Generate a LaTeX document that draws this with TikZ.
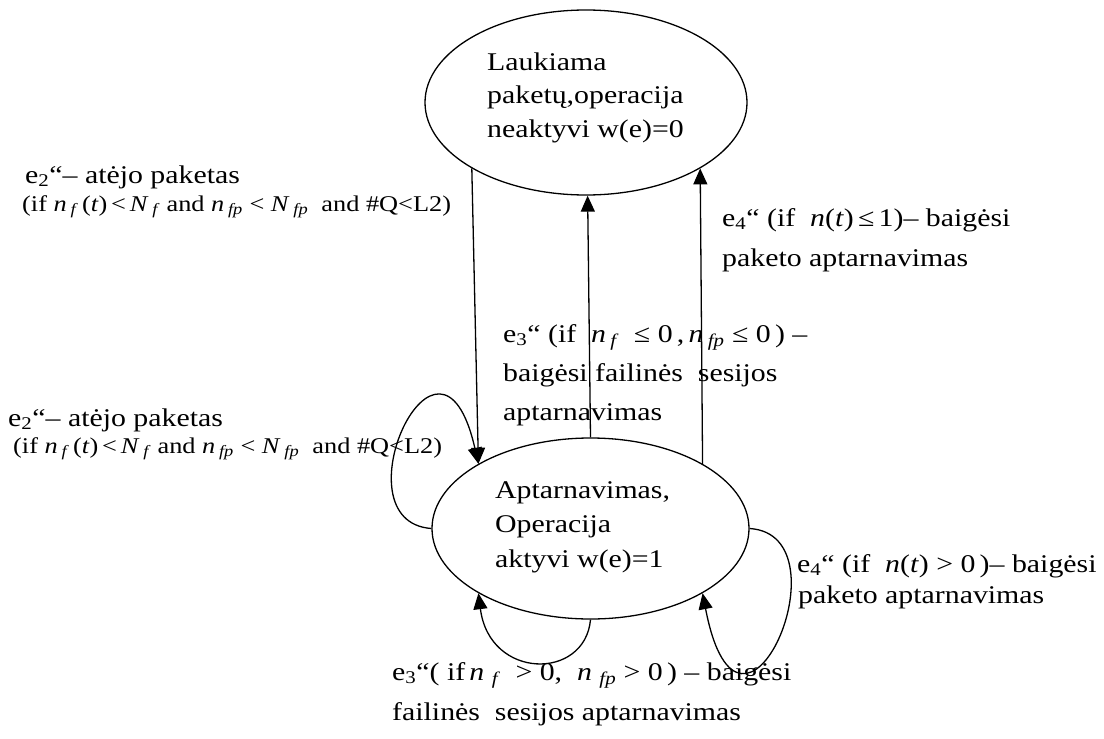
\documentclass[tikz,border=0pt]{standalone}
\usepackage{fontspec}
\setmainfont{Liberation Serif}[FakeStretch=1.17]
\usetikzlibrary{arrows.meta,shapes.geometric}
\newcommand{\vi}[1]{\textit{#1}}
\newcommand{\sbi}[1]{\textsubscript{\textit{#1}}}
\begin{document}
\begin{tikzpicture}[x=1pt,y=-1pt,
  lbl/.style={anchor=base west, inner sep=0pt, font=\fontsize{25.5}{30}\selectfont},
  sml/.style={anchor=base west, inner sep=0pt, font=\fontsize{22.5}{26}\selectfont},
  state/.style={draw, ellipse, line width=1.3pt, inner sep=0pt},
  arr/.style={line width=1.3pt, -{Triangle[length=16pt,width=14pt]}}]
\useasboundingbox (0,0) rectangle (1104,739);

% states
\node[state, minimum width=322pt, minimum height=185pt] (top) at (586,102.5) {};
\node[state, minimum width=317pt, minimum height=181pt] (bot) at (590.5,528.5) {};

% state texts
\node[lbl] (t1) at (487,70.5) {Laukiama};
\node[lbl] (t2) at (487,103) {paketų,operacija};
\node[lbl] (t3) at (487,137) {neaktyvi w(e)=0};
\node[lbl] (b1) at (495,498) {Aptarnavimas,};
\node[lbl] (b2) at (495,532) {Operacija};
\node[lbl] (b3) at (495,567) {aktyvi w(e)=1};

% connectors
\draw[arr] (top.210.25) -- (bot.150);
\draw[arr] (bot.90) -- (top.271);
\draw[arr] (bot.30) -- (top.330.2);
\draw[arr] (bot.180) .. controls +(-97,-7) and +(-39,-172) .. (bot.150);
\draw[arr] (bot.270) .. controls +(-5.5,61) and +(11,87) .. (bot.210);
\draw[arr] (bot.0) .. controls +(101,6.5) and +(38,197) .. (bot.330);

% label A
\node[lbl] (a1) at (25,183) {e\textsubscript{2}“– atėjo paketas};
\node[sml] (a2) at (22,211) {(if \vi{n}\,\sbi{f}\,(\vi{t})\,<\,\vi{N}\,\sbi{f} and \vi{n}\,\sbi{fp} < \vi{N}\,\sbi{fp}\ \ and \#Q<L2)};
% label B
\node[lbl] (l1) at (8,426) {e\textsubscript{2}“– atėjo paketas};
\node[sml] (l2) at (13,453) {(if \vi{n}\,\sbi{f}\,(\vi{t})\,<\,\vi{N}\,\sbi{f} and \vi{n}\,\sbi{fp} < \vi{N}\,\sbi{fp}\ \ and \#Q<L2)};
% label C
\node[lbl] (c1) at (503,342) {e\textsubscript{3}“ (if \ \vi{n}\,\sbi{f}\ \ ≤ 0\,,\,\vi{n}\,\sbi{fp}\ ≤ 0\,) –};
\node[lbl] (c2) at (503,381) {baigėsi failinės\ \ sesijos};
\node[lbl] (c3) at (503,420) {aptarnavimas};
% label D
\node[lbl] (d1) at (722,226) {e\textsubscript{4}“ (if \ \vi{n}(\vi{t})\,≤\,1)– baigėsi};
\node[lbl] (d2) at (722,266) {paketo aptarnavimas};
% label E
\node[lbl] (e1) at (797,572) {e\textsubscript{4}“ (if \ \vi{n}(\vi{t}) > 0\,)– baigėsi};
\node[lbl] (e2) at (798,603) {paketo aptarnavimas};
% label F
\node[lbl] (f1) at (392,680) {e\textsubscript{3}“( if\,\vi{n}\ \sbi{f}\ \ > 0,\ \ \vi{n}\ \sbi{fp}\ > 0\,) – baigėsi};
\node[lbl] (f2) at (392,720) {failinės\ \ sesijos aptarnavimas};
\end{tikzpicture}
\end{document}
